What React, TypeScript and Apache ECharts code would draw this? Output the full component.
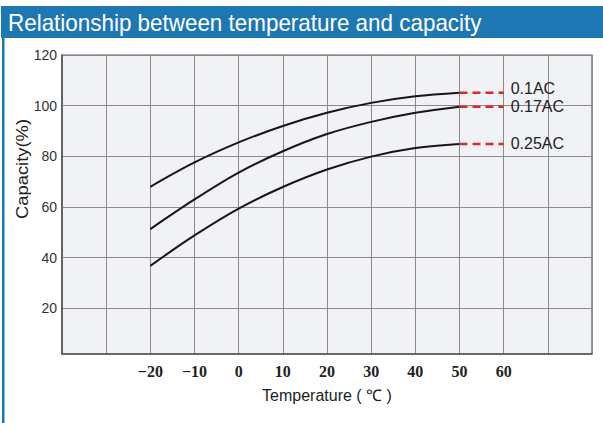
import React, { useEffect, useRef } from "react";
import * as echarts from "echarts";

const temperatures = [-20, -10, 0, 10, 20, 30, 40, 50];
const cap01 = [68, 77.6, 85.5, 92, 97.2, 101.1, 103.7, 105.1];
const cap017 = [51.3, 63, 73.6, 82, 88.8, 93.6, 97.2, 99.6];
const cap025 = [36.8, 48.8, 59.4, 67.9, 74.8, 79.9, 83.3, 84.9];
const seriesNames = ["0.1AC", "0.17AC", "0.25AC"];
const extensionEnd = 60;
const xTickLabels = [-20, -10, 0, 10, 20, 30, 40, 50, 60];
const yTickLabels = [20, 40, 60, 80, 100, 120];

const titleText = "Relationship between temperature and capacity";
const xAxisName = "Temperature ( \u2103 )";
const yAxisName = "Capacity(%)";

export default function App() {
  const ref = useRef<HTMLDivElement>(null);
  useEffect(() => {
    document.body.style.margin = "0";
    const chart = echarts.init(ref.current!, null, { renderer: "svg" });
    const curve = (name: string, values: number[]) => ({
      type: "line",
      name,
      data: temperatures.map((t, i) => [t, values[i]]),
      smooth: 0.35,
      symbol: "none",
      showSymbol: false,
      silent: true,
      lineStyle: { color: "#161616", width: 2 },
      z: 3,
    });
    const ext = (name: string, values: number[], dy: number) => {
      const last = values[values.length - 1];
      return {
        type: "line",
        name: name + " ext",
        data: [
          [temperatures[temperatures.length - 1], last],
          [extensionEnd, last],
        ],
        symbol: "none",
        showSymbol: false,
        silent: true,
        lineStyle: { color: "#e3262b", width: 2.5, type: [8, 5] },
        endLabel: {
          show: true,
          formatter: name,
          color: "#222",
          fontSize: 16,
          fontFamily: "Liberation Sans",
          distance: 7,
          offset: [0, dy],
        },
        z: 4,
      };
    };
    const blue = "#1d77b3";
    chart.setOption({
      animation: false,
      backgroundColor: "#ffffff",
      grid: {
        left: 62,
        right: 11,
        top: 55,
        bottom: 69,
        show: true,
        backgroundColor: "#f0f2f5",
        borderColor: "#5a5a5a",
        borderWidth: 1.2,
      },
      xAxis: {
        type: "value",
        min: -40,
        max: 80,
        interval: 10,
        axisLine: { show: true, onZero: false, lineStyle: { color: "#555", width: 1.5 } },
        axisTick: { show: false },
        axisLabel: {
          margin: 9,
          color: "#222",
          fontFamily: "Liberation Serif",
          fontWeight: "bold",
          fontSize: 16,
          formatter: (v: number) =>
            xTickLabels.includes(v) ? (v < 0 ? "\u2212" + Math.abs(v) : String(v)) : "",
        },
        splitLine: { show: true, lineStyle: { color: "#8a8a8a", width: 1 } },
        name: xAxisName,
        nameLocation: "middle",
        nameGap: 33,
        nameTextStyle: { color: "#222", fontSize: 16, fontFamily: "Liberation Sans" },
      },
      yAxis: {
        type: "value",
        min: 2,
        max: 120,
        axisLine: { show: true, onZero: false, lineStyle: { color: "#555", width: 1.5 } },
        axisTick: { show: false, customValues: yTickLabels },
        axisLabel: {
          customValues: yTickLabels,
          margin: 5,
          color: "#333",
          fontSize: 14,
          fontFamily: "Liberation Sans",
        },
        splitLine: { show: true, lineStyle: { color: "#8a8a8a", width: 1 } },
      },
      graphic: [
        { type: "rect", shape: { x: 1, y: 6, width: 602, height: 32 }, style: { fill: blue }, silent: true },
        { type: "rect", shape: { x: 2, y: 38, width: 2.5, height: 385 }, style: { fill: blue }, silent: true },
        {
          type: "text",
          x: 8,
          y: 23,
          scaleX: 0.975,
          style: {
            text: titleText,
            fill: "#ffffff",
            font: "23px 'Liberation Sans'",
            verticalAlign: "middle",
            align: "left",
          },
          silent: true,
        },
        {
          type: "text",
          x: 22,
          y: 169,
          rotation: Math.PI / 2,
          scaleX: 1.15,
          style: {
            text: yAxisName,
            fill: "#222",
            font: "16px 'Liberation Sans'",
            align: "center",
            verticalAlign: "middle",
          },
          silent: true,
        },
      ],
      series: [
        curve(seriesNames[0], cap01),
        curve(seriesNames[1], cap017),
        curve(seriesNames[2], cap025),
        ext(seriesNames[0], cap01, -4),
        ext(seriesNames[1], cap017, 0),
        ext(seriesNames[2], cap025, 0),
      ],
    });
    return () => chart.dispose();
  }, []);
  return <div ref={ref} style={{ position: "absolute", left: 0, top: 0, width: 603, height: 423 }} />;
}
